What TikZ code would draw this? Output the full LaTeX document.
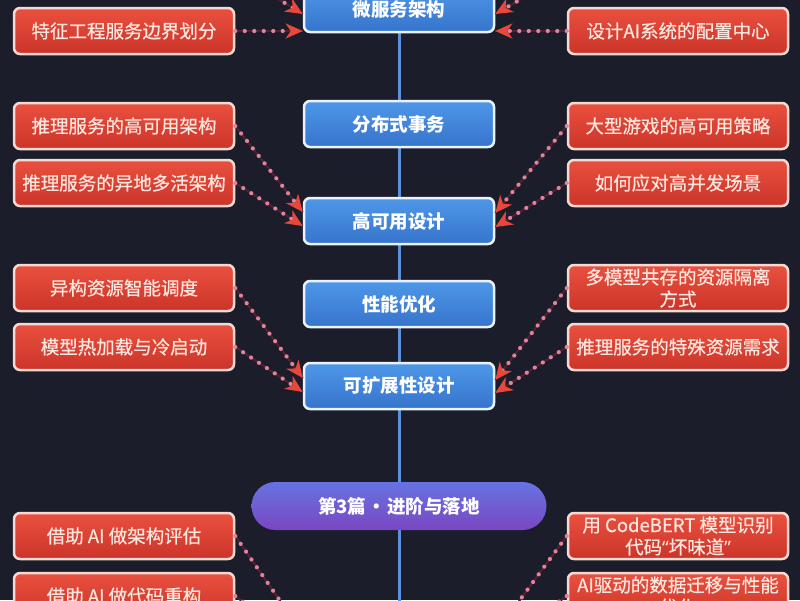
\documentclass[tikz,border=0pt]{standalone}
\usepackage{fontspec}
\setmainfont{Noto Sans CJK SC}
\newfontfamily\leafFont{Noto Sans CJK SC}[FakeBold=0.6]
\newfontfamily\quoteFont{Noto Sans}
\usepackage{tikz}
\usetikzlibrary{arrows.meta}
\definecolor{bgNavy}{HTML}{1B1D2B}
\definecolor{leafTop}{HTML}{E9503F}
\definecolor{leafBottom}{HTML}{CB3429}
\definecolor{leafEdge}{HTML}{F4DAD3}
\definecolor{leafText}{HTML}{FCE6DD}
\definecolor{topicTop}{HTML}{4E97E8}
\definecolor{topicBottom}{HTML}{3674CC}
\definecolor{topicEdge}{HTML}{EAF2FB}
\definecolor{pillTop}{HTML}{6673E2}
\definecolor{pillBottom}{HTML}{7A47C2}
\definecolor{spineBlue}{HTML}{5B90DA}
\definecolor{dotPink}{HTML}{E3839A}
\definecolor{dotShade}{HTML}{4E2231}
\definecolor{arrowRed}{HTML}{E8473A}
\tikzstyle{leafBox}=[shape = rectangle, rounded corners = 6pt, minimum width = 220pt, minimum height = 46pt, inner sep = 2pt, draw = leafEdge, line width = 2.5pt, top color = leafTop, bottom color = leafBottom, text = leafText, align = center, font = \fontsize{18.5}{22}\leafFont]
\tikzstyle{topicBox}=[shape = rectangle, rounded corners = 6pt, minimum width = 190pt, minimum height = 46pt, inner sep = 2pt, draw = topicEdge, line width = 2.5pt, top color = topicTop, bottom color = topicBottom, text = white, font = \fontsize{18.5}{22}\selectfont\bfseries]

\begin{document}
\begin{tikzpicture}[x = 1pt, y = -1pt]
\tikzstyle{partPill}=[shape = rectangle, rounded corners = 24pt, minimum width = 295pt, minimum height = 48pt, top color = pillTop, bottom color = pillBottom, text = white, font = \fontsize{18.5}{22}\selectfont\bfseries]
\tikzstyle{dotLink}=[draw = dotPink, line width = 4.2pt, line cap = round, dash pattern = on 0pt off 9.5pt, preaction = {draw = dotShade, line width = 2pt, solid, arrows = -}, -{Stealth[length = 17pt, width = 15pt, inset = 5pt, color = arrowRed]}]
\useasboundingbox (0,0) rectangle (800,600);
\clip (0,0) rectangle (800,600);
\fill[bgNavy] (0,0) rectangle (800,600);
% spine
\coordinate (spineTop) at (399,-60);
\coordinate (spineBot) at (399,660);
\draw[spineBlue, line width = 3pt] (spineTop) -- (spineBot);
% topics
\node[topicBox] (ms) at (399,9) {微服务架构};
\node[topicBox] (dt) at (399,124) {分布式事务};
\node[topicBox] (hav) at (399,221) {高可用设计};
\node[topicBox] (perf) at (399,304) {性能优化};
\node[topicBox] (scal) at (399,386) {可扩展性设计};
\node[partPill] (p3) at (399,506) {第3篇 {\kern-3pt·\kern-3pt} 进阶与落地};
% left leaves
\node[leafBox] (fe) at (124,31) {特征工程服务边界划分};
\node[leafBox] (ha1) at (124,126) {推理服务的高可用架构};
\node[leafBox] (ha2) at (124,183) {推理服务的异地多活架构};
\node[leafBox] (sc1) at (124,288) {异构资源智能调度};
\node[leafBox] (sc2) at (124,347) {模型热加载与冷启动};
\node[leafBox] (ai1) at (124,536) {借助 AI 做架构评估};
\node[leafBox] (ai2) at (124,596) {借助 AI 做代码重构};
% right leaves
\node[leafBox] (cfg) at (678,31) {设计AI系统的配置中心};
\node[leafBox] (hr1) at (678,126) {大型游戏的高可用策略};
\node[leafBox] (hr2) at (678,183) {如何应对高并发场景};
\node[leafBox] (sr1) at (678,288) {多模型共存的资源隔离\\方式};
\node[leafBox] (sr2) at (678,347) {推理服务的特殊资源需求};
\node[leafBox] (cb) at (678,536) {用 CodeBERT 模型识别\\代码{\quoteFont\bfseries “}坏味道{\quoteFont\bfseries ”}};
\node[leafBox] (dm) at (678,596) {AI驱动的数据迁移与性能\\优化};
% off-frame ends
\coordinate (upL) at (236,-27);
\coordinate (upR) at (566,-27);
\coordinate (nextL) at (303,634);
\coordinate (nextR) at (495,634);
\coordinate (nextL2) at (303,648);
\coordinate (nextR2) at (495,648);
% links
\draw[dotLink] (upL) -- ([yshift = -5pt]ms.west);
\draw[dotLink] (fe.east) -- ([yshift = -22pt]ms.west);
\draw[dotLink] (upR) -- ([yshift = -5pt]ms.east);
\draw[dotLink] (cfg.west) -- ([yshift = -22pt]ms.east);
\draw[dotLink] (ha1.east) -- ([yshift = 9pt]hav.west);
\draw[dotLink] (ha2.east) -- ([yshift = -5pt]hav.west);
\draw[dotLink] (hr1.west) -- ([yshift = 8pt]hav.east);
\draw[dotLink] (hr2.west) -- ([yshift = -6pt]hav.east);
\draw[dotLink] (sc1.east) -- ([yshift = 8pt]scal.west);
\draw[dotLink] (sc2.east) -- ([yshift = -6pt]scal.west);
\draw[dotLink] (sr1.west) -- ([yshift = 6pt]scal.east);
\draw[dotLink] (sr2.west) -- ([yshift = -7pt]scal.east);
\draw[dotLink] (ai1.east) -- (nextL);
\draw[dotLink] (ai2.east) -- (nextL2);
\draw[dotLink] (cb.west) -- (nextR);
\draw[dotLink] (dm.west) -- (nextR2);
\end{tikzpicture}
\end{document}
